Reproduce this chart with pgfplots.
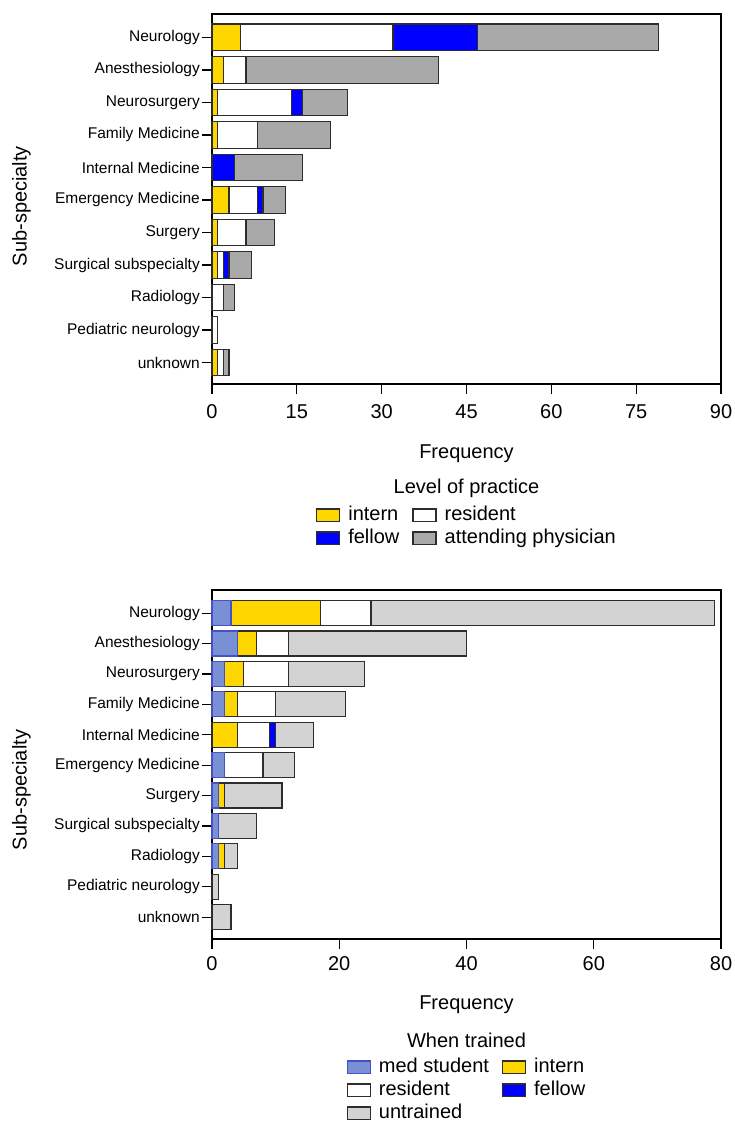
\documentclass[border=0pt]{standalone}
\usepackage{fontspec}
\setmainfont{Liberation Sans}
\usepackage{pgfplots}
\usepackage{pgfplotstable}
\pgfplotsset{compat=1.18}
\definecolor{cIntern}{RGB}{255,215,0}
\definecolor{cFellow}{RGB}{0,0,255}
\definecolor{cAttend}{RGB}{169,169,169}
\definecolor{cUntr}{RGB}{211,211,211}
\definecolor{cMed}{RGB}{122,144,212}
\definecolor{cMedLine}{RGB}{70,80,200}
\definecolor{barline}{RGB}{45,45,45}

\pgfplotstableread{
y intern resident fellow attending
0 5 27 15 32
1 2 4 0 34
2 1 13 2 8
3 1 7 0 13
4 0 0 4 12
5 3 5 1 4
6 1 5 0 5
7 1 1 1 4
8 0 2 0 2
9 0 1 0 0
10 1 1 0 1
}\toptab

\pgfplotstableread{
y med intern resident fellow untrained
0 3 14 8 0 54
1 4 3 5 0 28
2 2 3 7 0 12
3 2 2 6 0 11
4 0 4 5 1 6
5 2 0 6 0 5
6 1 1 0 0 9
7 1 0 0 0 6
8 1 1 0 0 2
9 0 0 0 0 1
10 0 0 0 0 3
}\bottab

\pgfplotsset{
  common/.style={
    scale only axis, width=509pt, xbar stacked, bar width=0.82, y dir=reverse,
    clip=false, xmin=0,
    ytick={0,...,10},
    yticklabels={Neurology,Anesthesiology,Neurosurgery,Family Medicine,Internal Medicine,Emergency Medicine,Surgery,Surgical subspecialty,Radiology,Pediatric neurology,unknown},
    tick align=outside, xtick pos=bottom, ytick pos=left, major tick length=10pt,
    tick style={line width=1.2pt, black},
    axis line style={line width=1.2pt},
    /pgf/number format/assume math mode=true,
    xticklabel style={font=\fontsize{20}{24}\selectfont},
    yticklabel style={font=\fontsize{15.5}{18}\selectfont, inner sep=2pt},
    label style={font=\fontsize{20}{24}\selectfont},
    xlabel=Frequency, ylabel=Sub-specialty,
    xlabel style={at={(axis description cs:0.5,-0.189)}, anchor=center},
    legend cell align=left, legend columns=2,
    legend style={draw=none, fill=none, inner sep=0pt, outer sep=0pt,
      font=\fontsize{20}{24}\selectfont, row sep=1pt, column sep=7pt,
      /tikz/every even column/.append style={column sep=12pt},
      nodes={inner sep=1pt, text height=15pt, text depth=5pt}},
  }
}

\begin{document}
\begin{tikzpicture}
\useasboundingbox (0pt,0pt) rectangle (734pt,-1123pt);

\begin{axis}[common, at={(212pt,-14pt)}, anchor=north west, height=370pt,
  xmax=90, xtick={0,15,...,90}, ymin=-0.72, ymax=10.66,
  xticklabel style={yshift=-7pt},
  ylabel style={at={(axis description cs:-0.3745,0.481)}, anchor=center},
  legend style={at={(axis description cs:0.5,-0.3257)}, anchor=north},
  every axis plot post/.append style={legend image code/.code={\draw[##1,line width=1.2pt] (0pt,-6pt) rectangle (23pt,6.5pt);}}]
\addplot[fill=cIntern, draw=barline, line width=1.2pt] table[x=intern,y=y] {\toptab};
\addplot[fill=white, draw=barline, line width=1.2pt] table[x=resident,y=y] {\toptab};
\addplot[fill=cFellow, draw=barline, line width=1.2pt] table[x=fellow,y=y] {\toptab};
\addplot[fill=cAttend, draw=barline, line width=1.2pt] table[x=attending,y=y] {\toptab};
\legend{intern, resident, fellow, attending physician}
\node[font=\fontsize{20}{24}\selectfont] at (axis description cs:0.5,-0.281) {Level of practice};
\end{axis}

\begin{axis}[common, at={(212pt,-590pt)}, anchor=north west, height=349pt,
  xmax=80, xtick={0,20,...,80}, ymin=-0.76, ymax=10.72,
  xticklabel style={yshift=-4pt},
  ylabel style={at={(axis description cs:-0.3745,0.427)}, anchor=center},
  legend style={at={(axis description cs:0.5,-0.3367)}, anchor=north},
  every axis plot post/.append style={legend image code/.code={\draw[##1,line width=1.2pt] (0pt,-6pt) rectangle (23pt,6.5pt);}}]
\addplot[fill=cMed, draw=cMedLine, line width=1.2pt] table[x=med,y=y] {\bottab};
\addplot[fill=cIntern, draw=barline, line width=1.2pt] table[x=intern,y=y] {\bottab};
\addplot[fill=white, draw=barline, line width=1.2pt] table[x=resident,y=y] {\bottab};
\addplot[fill=cFellow, draw=barline, line width=1.2pt] table[x=fellow,y=y] {\bottab};
\addplot[fill=cUntr, draw=barline, line width=1.2pt] table[x=untrained,y=y] {\bottab};
\legend{med student, intern, resident, fellow, untrained}
\node[font=\fontsize{20}{24}\selectfont] at (axis description cs:0.5,-0.289) {When trained};
\end{axis}
\end{tikzpicture}
\end{document}
